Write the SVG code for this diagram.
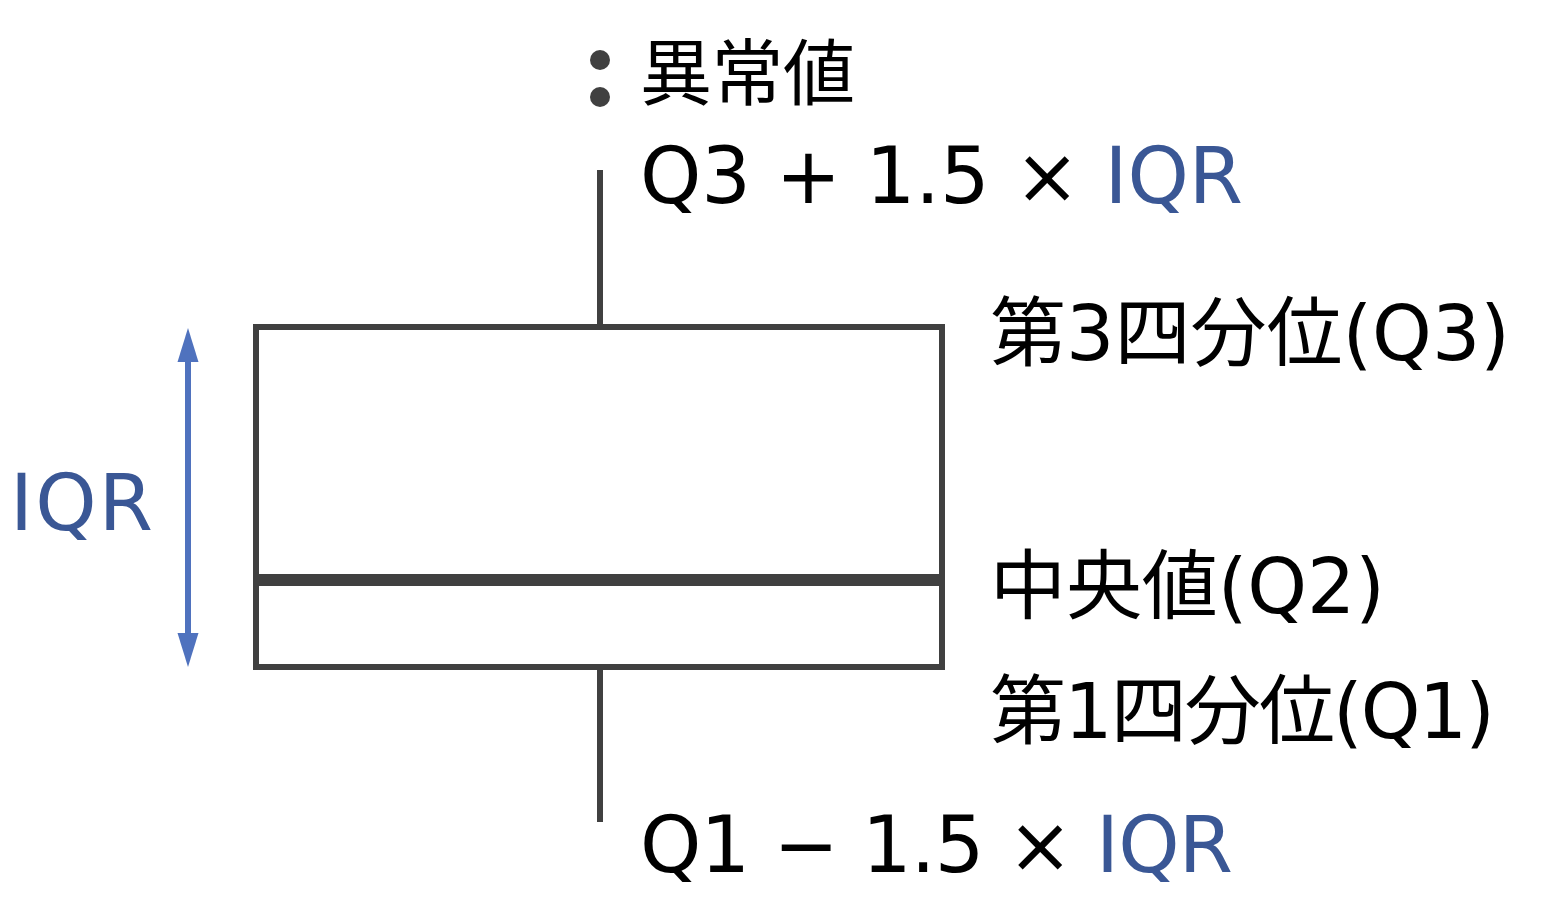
<svg xmlns="http://www.w3.org/2000/svg" width="1548" height="904" viewBox="0 0 1548 904">
<style>
.t{font-family:"DejaVu Sans","Noto Sans CJK JP",sans-serif;fill:#000}
.j{font-family:"Noto Sans CJK JP",sans-serif;fill:#000}
.blue{fill:#3A5795}
.ln{stroke:#404040;fill:none}
</style>
<rect width="1548" height="904" fill="#fff"/>
<g id="connectors">
<line class="ln" x1="600" y1="170" x2="600" y2="324" stroke-width="6"/>
<line class="ln" x1="600" y1="670" x2="600" y2="822" stroke-width="6"/>
<line x1="188" y1="360" x2="188" y2="635" stroke="#4F72BE" stroke-width="6"/>
<polygon points="188,328 177.5,362 198.5,362" fill="#4F72BE"/>
<polygon points="188,667 177.5,633 198.5,633" fill="#4F72BE"/>
</g>
<g id="box">
<rect class="ln" x="256" y="327" width="686" height="340" stroke-width="6"/>
<line class="ln" x1="256" y1="580" x2="942" y2="580" stroke-width="12"/>
</g>
<g id="outliers">
<circle cx="600" cy="60" r="10" fill="#404040"/>
<circle cx="600" cy="97" r="10" fill="#404040"/>
<text class="j" x="640" y="99" font-size="72" textLength="215">異常値</text>
</g>
<g id="upper-fence">
<text class="t" x="640" y="203" font-size="78" textLength="603">Q3 + 1.5 × <tspan class="blue">IQR</tspan></text>
</g>
<g id="q3-label">
<text class="t" x="990" y="360" font-size="76" textLength="520">第3四分位(Q3)</text>
</g>
<g id="median-label">
<text class="t" x="990" y="613" font-size="76" textLength="395">中央値(Q2)</text>
</g>
<g id="q1-label">
<text class="t" x="990" y="738" font-size="76" textLength="505">第1四分位(Q1)</text>
</g>
<g id="lower-fence">
<text class="t" x="640" y="872" font-size="78" textLength="593">Q1 − 1.5 × <tspan class="blue">IQR</tspan></text>
</g>
<g id="iqr-label">
<text class="t blue" x="10" y="530" font-size="78" textLength="143">IQR</text>
</g>
</svg>
